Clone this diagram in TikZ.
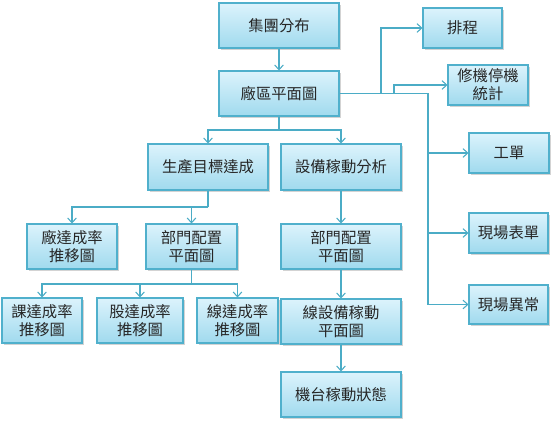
\documentclass[tikz,border=0pt]{standalone}
\usepackage{fontspec}
\newfontfamily\cjk{Noto Sans CJK TC}
\usetikzlibrary{arrows.meta,shadows}
\definecolor{bordc}{RGB}{80,176,204}
\definecolor{linec}{RGB}{75,172,198}
\definecolor{topc}{RGB}{220,243,252}
\definecolor{botc}{RGB}{160,218,238}
\definecolor{txtc}{RGB}{38,38,38}
\tikzset{
  box/.style={draw=bordc, line width=0.8pt, top color=topc, bottom color=botc,
    drop shadow={shadow xshift=1.2pt, shadow yshift=-1.2pt, opacity=0.35, fill=gray},
    text=txtc, align=center, inner sep=1pt,
    font=\cjk\fontsize{11.5}{13.3}\selectfont},
  conn/.style={draw=linec, line width=0.8pt},
  arr/.style={conn, -{Straight Barb[length=3.5pt,width=6.5pt]}},
}
\begin{document}
\begin{tikzpicture}[x=0.75pt,y=-0.75pt]
\useasboundingbox (0,0) rectangle (554,423);
% nodes
\node[box, minimum width=90pt, minimum height=33.75pt] (grp) at (279,25.5) {集團分布};
\node[box, minimum width=90pt, minimum height=33.75pt] (plant) at (279,93.5) {廠區平面圖};
\node[box, minimum width=59.25pt, minimum height=30pt] (sched) at (462.5,28) {排程};
\node[box, minimum width=60pt, minimum height=30pt] (repair) at (488,85) {修機停機\\統計};
\node[box, minimum width=60pt, minimum height=30pt] (wo) at (509,153) {工單};
\node[box, minimum width=90pt, minimum height=34.5pt] (prod) at (208,167) {生產目標達成};
\node[box, minimum width=90pt, minimum height=34.5pt] (equip) at (341,167) {設備稼動分析};
\node[box, minimum width=67.5pt, minimum height=33.75pt] (prate) at (72,246.5) {廠達成率\\推移圖};
\node[box, minimum width=68.25pt, minimum height=33.75pt] (deptL) at (191.5,246.5) {部門配置\\平面圖};
\node[box, minimum width=60pt, minimum height=33.75pt] (ke) at (42,320.5) {課達成率\\推移圖};
\node[box, minimum width=64.5pt, minimum height=33.75pt] (gu) at (140,320.5) {股達成率\\推移圖};
\node[box, minimum width=60.75pt, minimum height=33.75pt] (xian) at (237.5,320.5) {線達成率\\推移圖};
\node[box, minimum width=90pt, minimum height=33.75pt] (deptR) at (341,246.5) {部門配置\\平面圖};
\node[box, minimum width=90pt, minimum height=33.75pt] (lineq) at (341,321.5) {線設備稼動\\平面圖};
\node[box, minimum width=90pt, minimum height=33.75pt] (mach) at (341,394.5) {機台稼動狀態};
\node[box, minimum width=59.25pt, minimum height=30pt] (form) at (508.5,233) {現場表單};
\node[box, minimum width=59.25pt, minimum height=29.25pt] (abn) at (508.5,304.5) {現場異常};
% junction coordinates
\coordinate (j1) at (279,130);
\coordinate (j2) at (208,207);
\coordinate (j3) at (191.5,284);
\coordinate (b1) at (381,93.5);
\coordinate (b2) at (394,93.5);
\coordinate (bus) at (428,93.5);
% connectors
\draw[arr] (grp) -- (plant);
\draw[conn] (plant.south) -- (j1);
\draw[arr] (j1) -| (prod.north);
\draw[arr] (j1) -| (equip.north);
\draw[conn] (prod.south) -- (j2);
\draw[arr] (j2) -| (prate.north);
\draw[arr] (j2) -| (deptL.north);
\draw[conn] (deptL.south) -- (j3);
\draw[arr] (j3) -| (ke.north);
\draw[arr] (j3) -| (gu.north);
\draw[arr] (j3) -| (xian.north);
\draw[arr] (equip) -- (deptR);
\draw[arr] (deptR) -- (lineq);
\draw[arr] (lineq) -- (mach);
\draw[conn] (plant.east) -- (bus);
\draw[arr] (b1) |- (sched.west);
\draw[arr] (b2) |- (repair.west);
\draw[arr] (bus) |- (wo.west);
\draw[arr] (bus) |- (form.west);
\draw[arr] (bus) |- (abn.west);
\end{tikzpicture}
\end{document}
